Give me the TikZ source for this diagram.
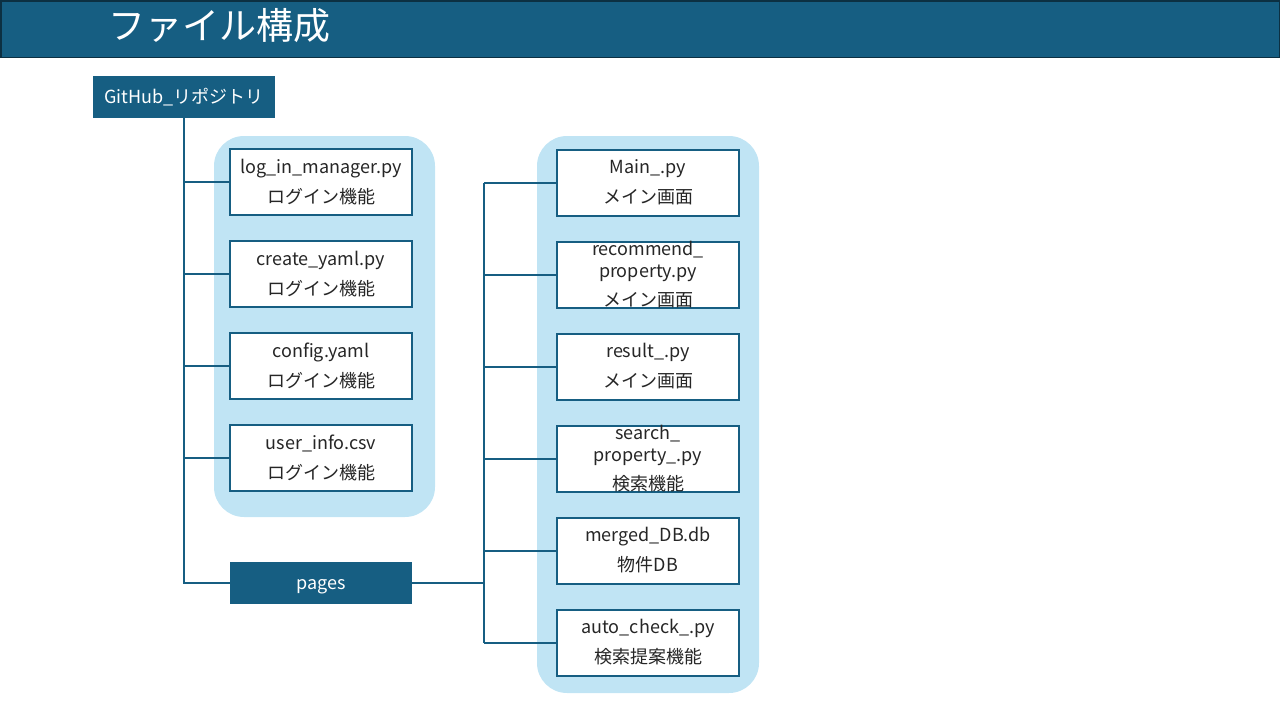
\documentclass[tikz,border=0pt]{standalone}
\usepackage{fontspec}
\setmainfont{Noto Sans CJK JP}
\definecolor{hdr}{RGB}{22,94,130}
\definecolor{hdrborder}{RGB}{12,48,66}
\definecolor{panel}{RGB}{192,228,244}
\definecolor{txt}{RGB}{38,38,38}
\begin{document}
\begin{tikzpicture}[x=1pt,y=-1pt,
  filebox/.style={draw=hdr,line width=2pt,fill=white,minimum width=182pt,minimum height=66pt,inner sep=0pt,align=center,text=txt,font=\fontsize{18}{22}\selectfont},
  filetext/.style={align=center,text=txt,inner sep=0pt,font=\fontsize{18}{22}\selectfont},
  darkbox/.style={fill=hdr,text=white,inner sep=0pt,minimum width=182pt,minimum height=42pt,text height=17pt,text depth=4pt,font=\fontsize{18}{22}\selectfont},
  conn/.style={draw=hdr,line width=2pt},
  panelbox/.style={fill=panel,rounded corners=30pt}]
\useasboundingbox (0,0) rectangle (1280,720);
% header
\fill[hdr] (0,0) rectangle (1280,58);
\draw[hdrborder,line width=1.5pt] (0.75,0.75) rectangle (1279.25,57.5);
\node[anchor=west,text=white,inner sep=0pt,font=\fontsize{37}{42}\selectfont] (title) at (108,26) {ファイル構成};
% panels
\fill[panelbox] (214,136) rectangle (435,517);
\fill[panelbox] (537,136) rectangle (759,693);
% root
\node[darkbox] (gh) at (184,97) {GitHub\_リポジトリ};
% left files
\node[filebox] (l1) at (321,182) {log\_in\_manager.py\\[8pt]ログイン機能};
\node[filebox] (l2) at (321,274) {create\_yaml.py\\[8pt]ログイン機能};
\node[filebox] (l3) at (321,366) {config.yaml\\[8pt]ログイン機能};
\node[filebox] (l4) at (321,458) {user\_info.csv\\[8pt]ログイン機能};
\node[darkbox] (pages) at (321,583) {pages};
% right files
\node[filebox] (r1) at (648,182.5) {Main\_.py\\[8pt]メイン画面};
\node[filebox] (r2) at (648,274.5) {};
\node[filetext] (r2t) at (648,275) {recommend\_\\property.py\\[7pt]メイン画面};
\node[filebox] (r3) at (648,366.5) {result\_.py\\[8pt]メイン画面};
\node[filebox] (r4) at (648,458.5) {};
\node[filetext] (r4t) at (648,459) {search\_\\property\_.py\\[7pt]検索機能};
\node[filebox] (r5) at (648,550.5) {merged\_DB.db\\[8pt]物件DB};
\node[filebox] (r6) at (648,642.5) {auto\_check\_.py\\[8pt]検索提案機能};
% left connectors
\coordinate (lbend) at (184,583);
\draw[conn] (gh.south) -- (lbend) -- (pages.west);
\foreach \n in {l1,l2,l3,l4} \draw[conn] (gh.south |- \n.west) -- (\n.west);
% right connectors
\coordinate (rtop) at (484,182.5);
\coordinate (rbot) at (484,642.5);
\draw[conn,line width=2.6pt] (pages.east) -- (rtop |- pages.east);
\draw[conn] (rtop) -- (rbot);
\foreach \n in {r1,r2,r3,r4,r5,r6} \draw[conn] (rtop |- \n.west) -- (\n.west);
\end{tikzpicture}
\end{document}
